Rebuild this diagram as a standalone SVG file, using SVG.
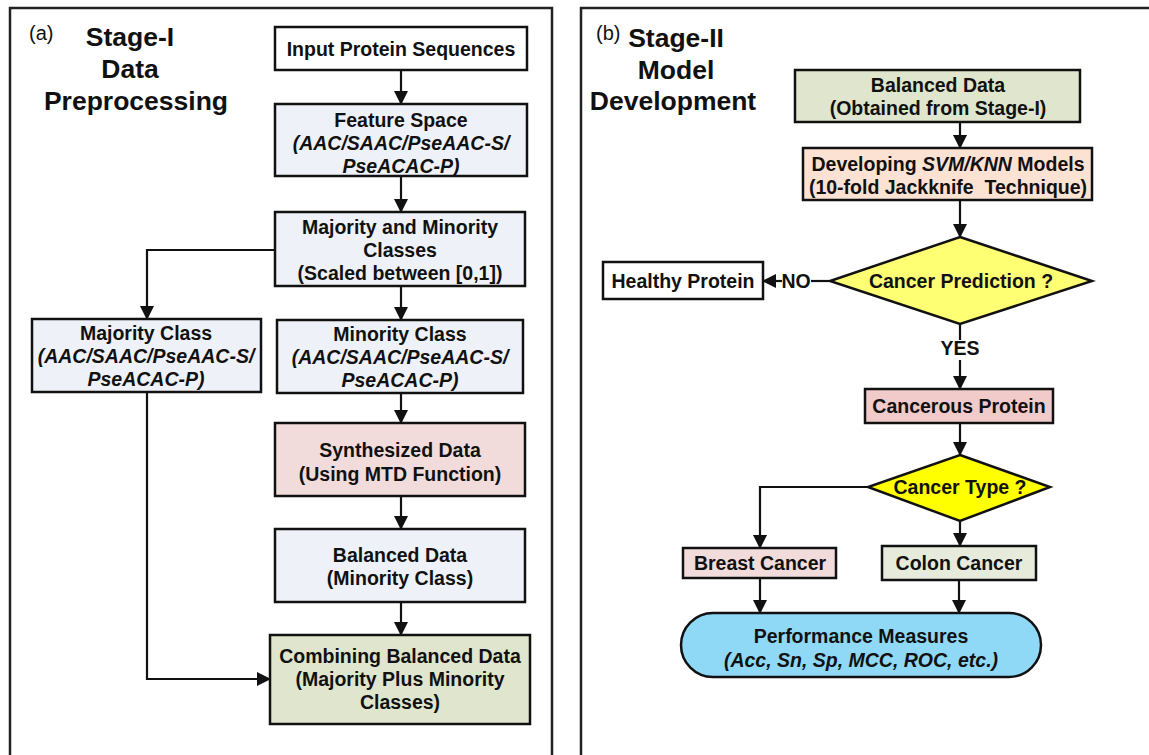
<svg xmlns="http://www.w3.org/2000/svg" width="1149" height="755" viewBox="0 0 1149 755">
  <style>
    text { font-family: "Liberation Sans", Arial, sans-serif; fill: #111; }
    .t { font-size: 19.5px; font-weight: bold; text-anchor: middle; }
    .i { font-style: italic; }
    .title { font-size: 26.5px; font-weight: bold; text-anchor: middle; }
    .tag { font-size: 20px; }
    .box { stroke: #111; stroke-width: 2.5; }
    .panel { fill: none; stroke: #222; stroke-width: 2.5; }
    .blue { fill: #EEF1F7; }
    .pink { fill: #F2DCDB; }
    .green { fill: #DFE6CD; }
    .white { fill: #FFFFFF; }
    .peach { fill: #FCE2D2; }
    .rose { fill: #F1CACA; }
    .sage { fill: #E6EBDB; }
    .lemon { fill: #FFFF73; }
    .yellow { fill: #FFFF00; }
    .sky { fill: #8FD9F7; }
    .conn { fill: none; stroke: #111; stroke-width: 2.2; }
  </style>
  <defs>
    <marker id="arrow" markerUnits="userSpaceOnUse" markerWidth="14" markerHeight="14" viewBox="0 0 14 14" refX="13" refY="7" orient="auto">
      <path d="M0,0 L14,7 L0,14 Z" fill="#111"/>
    </marker>
  </defs>

  <!-- panel frames -->
  <path class="panel" d="M10,760 V8 H552 V760"/>
  <path class="panel" d="M581,760 V8 H1152"/>

  <!-- panel (a) heading -->
  <g id="heading-a">
    <text class="tag" x="29" y="40">(a)</text>
    <text class="title" x="130" y="46">Stage-I</text>
    <text class="title" x="130" y="78">Data</text>
    <text class="title" x="136" y="110">Preprocessing</text>
  </g>

  <!-- panel (b) heading -->
  <g id="heading-b">
    <text class="tag" x="596" y="40">(b)</text>
    <text class="title" x="676" y="47">Stage-II</text>
    <text class="title" x="676" y="79">Model</text>
    <text class="title" x="673" y="110">Development</text>
  </g>

  <!-- connectors -->
  <g id="connectors">
    <path class="conn" d="M401,70 V104" marker-end="url(#arrow)"/>
    <path class="conn" d="M401,176 V212" marker-end="url(#arrow)"/>
    <path class="conn" d="M401,286 V320" marker-end="url(#arrow)"/>
    <path class="conn" d="M401,393 V423" marker-end="url(#arrow)"/>
    <path class="conn" d="M401,496 V529" marker-end="url(#arrow)"/>
    <path class="conn" d="M401,602 V635" marker-end="url(#arrow)"/>
    <path class="conn" d="M275,250 H147 V319" marker-end="url(#arrow)"/>
    <path class="conn" d="M147,392 V679 H270" marker-end="url(#arrow)"/>

    <path class="conn" d="M960,122 V148" marker-end="url(#arrow)"/>
    <path class="conn" d="M960,200 V237" marker-end="url(#arrow)"/>
    <path class="conn" d="M830,281 H811"/>
    <path class="conn" d="M782,281 H763" marker-end="url(#arrow)"/>
    <path class="conn" d="M960,324 V340"/>
    <path class="conn" d="M960,360 V389" marker-end="url(#arrow)"/>
    <path class="conn" d="M960,423 V455" marker-end="url(#arrow)"/>
    <path class="conn" d="M868,487 H760 V548" marker-end="url(#arrow)"/>
    <path class="conn" d="M960,521 V546" marker-end="url(#arrow)"/>
    <path class="conn" d="M760,578 V613" marker-end="url(#arrow)"/>
    <path class="conn" d="M959,580 V613" marker-end="url(#arrow)"/>
  </g>

  <!-- edge labels -->
  <text class="t" x="796" y="288">NO</text>
  <text class="t" x="960" y="355">YES</text>

  <!-- stage I nodes -->
  <g id="input-sequences">
    <rect class="box white" x="275" y="27" width="252" height="43"/>
    <text class="t" x="401" y="56">Input Protein Sequences</text>
  </g>
  <g id="feature-space">
    <rect class="box blue" x="275" y="104" width="252" height="72"/>
    <text class="t" x="401" y="127">Feature Space</text>
    <text class="t i" x="401" y="150">(AAC/SAAC/PseAAC-S/</text>
    <text class="t i" x="401" y="173">PseACAC-P)</text>
  </g>
  <g id="majority-minority">
    <rect class="box blue" x="275" y="212" width="250" height="74"/>
    <text class="t" x="400" y="234">Majority and Minority</text>
    <text class="t" x="400" y="257">Classes</text>
    <text class="t" x="400" y="280">(Scaled between [0,1])</text>
  </g>
  <g id="majority-class">
    <rect class="box blue" x="32" y="319" width="229" height="73"/>
    <text class="t" x="146" y="340">Majority Class</text>
    <text class="t i" x="146" y="363">(AAC/SAAC/PseAAC-S/</text>
    <text class="t i" x="146" y="386">PseACAC-P)</text>
  </g>
  <g id="minority-class">
    <rect class="box blue" x="277" y="320" width="246" height="73"/>
    <text class="t" x="400" y="341">Minority Class</text>
    <text class="t i" x="400" y="364">(AAC/SAAC/PseAAC-S/</text>
    <text class="t i" x="400" y="387">PseACAC-P)</text>
  </g>
  <g id="synthesized">
    <rect class="box pink" x="275" y="423" width="250" height="73"/>
    <text class="t" x="400" y="457">Synthesized Data</text>
    <text class="t" x="400" y="481">(Using MTD Function)</text>
  </g>
  <g id="balanced-minority">
    <rect class="box blue" x="275" y="529" width="250" height="73"/>
    <text class="t" x="400" y="562">Balanced Data</text>
    <text class="t" x="400" y="585">(Minority Class)</text>
  </g>
  <g id="combining">
    <rect class="box green" x="270" y="635" width="260" height="89"/>
    <text class="t" x="400" y="663">Combining Balanced Data</text>
    <text class="t" x="400" y="686">(Majority Plus Minority</text>
    <text class="t" x="400" y="709">Classes)</text>
  </g>

  <!-- stage II nodes -->
  <g id="balanced-data">
    <rect class="box green" x="795" y="70" width="285" height="52"/>
    <text class="t" x="938" y="92">Balanced Data</text>
    <text class="t" x="938" y="115">(Obtained from Stage-I)</text>
  </g>
  <g id="developing-models">
    <rect class="box peach" x="803" y="148" width="289" height="52"/>
    <text class="t" x="948" y="171">Developing <tspan class="i">SVM/KNN</tspan> Models</text>
    <text class="t" x="948" y="194" xml:space="preserve">(10-fold Jackknife  Technique)</text>
  </g>
  <g id="cancer-prediction">
    <path class="box lemon" d="M960,237 L1092,281 L960,324 L830,281 Z"/>
    <text class="t" x="961" y="288">Cancer Prediction ?</text>
  </g>
  <g id="healthy-protein">
    <rect class="box white" x="603" y="262" width="160" height="37"/>
    <text class="t" x="683" y="288">Healthy Protein</text>
  </g>
  <g id="cancerous-protein">
    <rect class="box rose" x="865" y="389" width="188" height="34"/>
    <text class="t" x="959" y="413">Cancerous Protein</text>
  </g>
  <g id="cancer-type">
    <path class="box yellow" d="M960,455 L1050,487 L960,521 L868,487 Z"/>
    <text class="t" x="960" y="494">Cancer Type ?</text>
  </g>
  <g id="breast-cancer">
    <rect class="box pink" x="683" y="548" width="153" height="30"/>
    <text class="t" x="760" y="570">Breast Cancer</text>
  </g>
  <g id="colon-cancer">
    <rect class="box sage" x="882" y="546" width="154" height="34"/>
    <text class="t" x="959" y="570">Colon Cancer</text>
  </g>
  <g id="performance">
    <rect class="box sky" x="681" y="613" width="360" height="64" rx="32" ry="32"/>
    <text class="t" x="861" y="643">Performance Measures</text>
    <text class="t i" x="861" y="667">(Acc, Sn, Sp, MCC, ROC, etc.)</text>
  </g>
</svg>
